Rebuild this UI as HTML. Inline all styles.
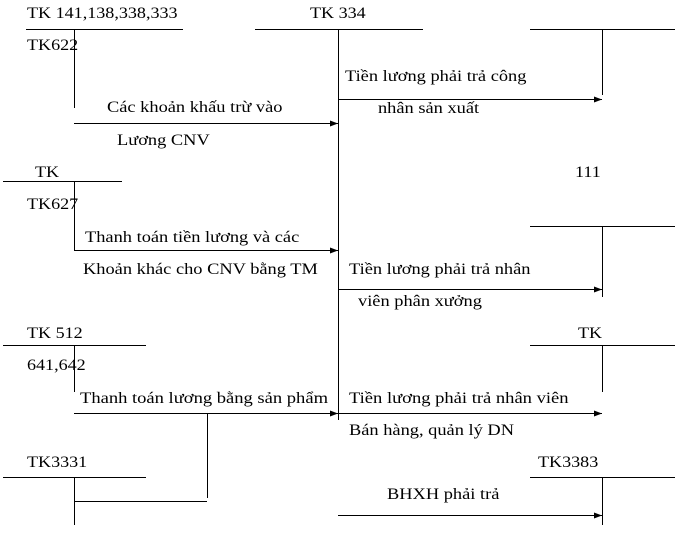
<!DOCTYPE html>
<html><head><meta charset="utf-8"><style>
html,body{margin:0;padding:0;background:#fff;width:682px;height:540px;overflow:hidden}
svg{display:block}
text{font-family:"Liberation Serif",serif;font-size:16px;fill:#000}
line{stroke:#000;stroke-width:1}
</style></head><body>
<svg width="682" height="540" viewBox="0 0 682 540" xmlns="http://www.w3.org/2000/svg">
<defs><marker id="a" markerWidth="8" markerHeight="6" refX="8" refY="3" orient="auto" markerUnits="userSpaceOnUse"><path d="M0,0 L8,3 L0,6 z" fill="#000"/></marker></defs>
<line x1="26" y1="29.5" x2="183" y2="29.5"/>
<line x1="74.5" y1="29" x2="74.5" y2="108"/>
<line x1="255" y1="29.5" x2="423" y2="29.5"/>
<line x1="338.5" y1="29" x2="338.5" y2="420"/>
<line x1="530" y1="29.5" x2="675" y2="29.5"/>
<line x1="602.5" y1="29" x2="602.5" y2="95"/>
<line x1="3" y1="181.5" x2="122" y2="181.5"/>
<line x1="74.5" y1="181" x2="74.5" y2="250"/>
<line x1="530" y1="226.5" x2="675" y2="226.5"/>
<line x1="602.5" y1="226" x2="602.5" y2="297"/>
<line x1="3" y1="345.5" x2="146" y2="345.5"/>
<line x1="74.5" y1="345" x2="74.5" y2="392"/>
<line x1="530" y1="345.5" x2="675" y2="345.5"/>
<line x1="602.5" y1="345" x2="602.5" y2="392"/>
<line x1="3" y1="477.5" x2="146" y2="477.5"/>
<line x1="74.5" y1="477" x2="74.5" y2="525"/>
<line x1="74" y1="501.5" x2="207" y2="501.5"/>
<line x1="207.5" y1="413" x2="207.5" y2="498"/>
<line x1="530" y1="477.5" x2="675" y2="477.5"/>
<line x1="602.5" y1="477" x2="602.5" y2="525"/>
<line x1="338" y1="99.5" x2="602" y2="99.5" marker-end="url(#a)"/>
<line x1="74" y1="123.5" x2="338" y2="123.5" marker-end="url(#a)"/>
<line x1="74" y1="250.5" x2="338" y2="250.5" marker-end="url(#a)"/>
<line x1="338" y1="289.5" x2="602" y2="289.5" marker-end="url(#a)"/>
<line x1="74" y1="413.5" x2="338" y2="413.5" marker-end="url(#a)"/>
<line x1="338" y1="413.5" x2="602" y2="413.5" marker-end="url(#a)"/>
<line x1="338" y1="515.5" x2="602" y2="515.5" marker-end="url(#a)"/>
<text x="27" y="18" transform="translate(27 0) scale(1.13 1) translate(-27 0)">TK 141,138,338,333</text>
<text x="310" y="18" transform="translate(310 0) scale(1.13 1) translate(-310 0)">TK 334</text>
<text x="27" y="50" transform="translate(27 0) scale(1.13 1) translate(-27 0)">TK622</text>
<text x="345" y="81" transform="translate(345 0) scale(1.15 1) translate(-345 0)">Tiền lương phải trả công</text>
<text x="378" y="113" transform="translate(378 0) scale(1.15 1) translate(-378 0)">nhân sản xuất</text>
<text x="107" y="112" transform="translate(107 0) scale(1.15 1) translate(-107 0)">Các khoản khấu trừ vào</text>
<text x="117" y="145" transform="translate(117 0) scale(1.15 1) translate(-117 0)">Lương CNV</text>
<text x="35" y="177" transform="translate(35 0) scale(1.13 1) translate(-35 0)">TK</text>
<text x="575" y="177" transform="translate(575 0) scale(1.13 1) translate(-575 0)">111</text>
<text x="27" y="209" transform="translate(27 0) scale(1.13 1) translate(-27 0)">TK627</text>
<text x="85" y="242" transform="translate(85 0) scale(1.15 1) translate(-85 0)">Thanh toán tiền lương và các</text>
<text x="83" y="274" transform="translate(83 0) scale(1.15 1) translate(-83 0)">Khoản khác cho CNV bằng TM</text>
<text x="349" y="274" transform="translate(349 0) scale(1.15 1) translate(-349 0)">Tiền lương phải trả nhân</text>
<text x="358" y="306" transform="translate(358 0) scale(1.15 1) translate(-358 0)">viên phân xưởng</text>
<text x="27" y="338" transform="translate(27 0) scale(1.13 1) translate(-27 0)">TK 512</text>
<text x="578" y="338" transform="translate(578 0) scale(1.13 1) translate(-578 0)">TK</text>
<text x="27" y="370" transform="translate(27 0) scale(1.13 1) translate(-27 0)">641,642</text>
<text x="80" y="403" transform="translate(80 0) scale(1.16 1) translate(-80 0)">Thanh toán lương bằng sản phẩm</text>
<text x="349" y="403" transform="translate(349 0) scale(1.16 1) translate(-349 0)">Tiền lương phải trả nhân viên</text>
<text x="349" y="435" transform="translate(349 0) scale(1.15 1) translate(-349 0)">Bán hàng, quản lý DN</text>
<text x="27" y="467" transform="translate(27 0) scale(1.13 1) translate(-27 0)">TK3331</text>
<text x="538" y="467" transform="translate(538 0) scale(1.13 1) translate(-538 0)">TK3383</text>
<text x="387" y="499" transform="translate(387 0) scale(1.15 1) translate(-387 0)">BHXH phải trả</text>
</svg>
</body></html>
